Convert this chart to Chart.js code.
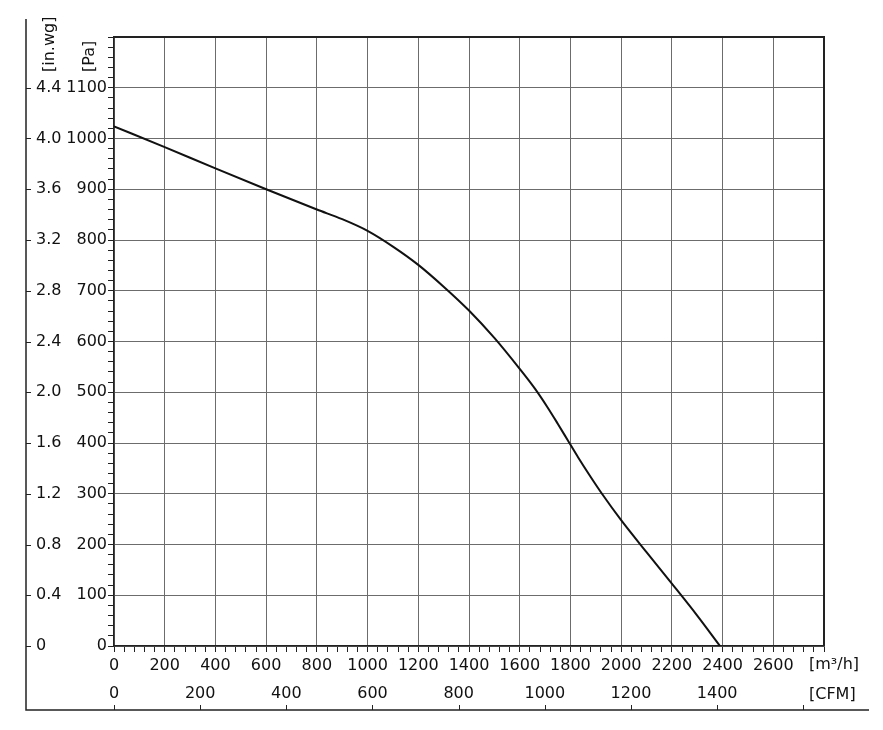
<!DOCTYPE html>
<html>
<head>
  <meta charset="UTF-8" />
  <title>Fan curve</title>
  <script src="https://cdn.jsdelivr.net/npm/chart.js"></script>
  <style>
    body { margin: 0; background: #fff; }
    canvas { display: block; }
  </style>
</head>
<body>
  <canvas id="fanChart" width="883" height="730"></canvas>

  <script>
    // curve: air flow [m3/h] vs static pressure [Pa]
    const flowM3h    = [0, 200, 400, 600, 800, 900, 1000, 1100, 1200, 1300, 1400, 1500, 1600, 1660, 1710, 1750, 1790, 1830, 1880, 1923, 2000, 2100, 2200, 2300, 2390];
    const pressurePa = [1024, 983, 941, 900, 860, 841, 818, 787, 751, 708, 661, 607, 546, 507, 470, 438, 405, 372, 333, 301, 248, 185, 123, 60, 0];

    // tick labels
    const paLabels   = [0, 100, 200, 300, 400, 500, 600, 700, 800, 900, 1000, 1100];
    const inwgLabels = ['0', '0.4', '0.8', '1.2', '1.6', '2.0', '2.4', '2.8', '3.2', '3.6', '4.0', '4.4'];
    const m3hLabels  = [0, 200, 400, 600, 800, 1000, 1200, 1400, 1600, 1800, 2000, 2200, 2400, 2600];
    const cfmLabels  = [0, 200, 400, 600, 800, 1000, 1200, 1400];
    const cfmTicks   = [0, 200, 400, 600, 800, 1000, 1200, 1400, 1600];

    const M3H_PER_CFM = 1.699;
    const X_MAX = 2800;
    const Y_MAX = 1200;

    Chart.defaults.font.family = "'DejaVu Sans', Verdana, sans-serif";
    Chart.defaults.font.size = 16;
    Chart.defaults.color = '#111';

    const gridColor = '#6c6c6c';
    const darkColor = '#222';

    // frame, outer axes, unit labels
    const extras = {
      id: 'extras',
      afterDraw(chart) {
        const { ctx, chartArea: a } = chart;
        const yin = chart.scales.yin;
        const xcfm = chart.scales.xcfm;
        ctx.save();
        ctx.strokeStyle = darkColor;
        ctx.lineWidth = 2;
        ctx.beginPath();
        ctx.moveTo(a.left, a.top);
        ctx.lineTo(a.right, a.top);
        ctx.lineTo(a.right, a.bottom);
        ctx.stroke();

        // outer in.wg line + CFM line
        ctx.lineWidth = 1.5;
        ctx.beginPath();
        ctx.moveTo(26, 19);
        ctx.lineTo(26, 710);
        ctx.lineTo(869, 710);
        ctx.stroke();

        ctx.lineWidth = 1;
        ctx.beginPath();
        paLabels.forEach(v => {
          const py = Math.round(yin.getPixelForValue(v)) + 0.5;
          ctx.moveTo(26, py);
          ctx.lineTo(31, py);
        });
        cfmTicks.forEach(v => {
          const px = Math.round(xcfm.getPixelForValue(v)) + 0.5;
          ctx.moveTo(px, 710);
          ctx.lineTo(px, 705);
        });
        ctx.stroke();

        ctx.fillStyle = '#111';
        ctx.font = "16px 'DejaVu Sans', Verdana, sans-serif";
        ctx.textAlign = 'left';
        ctx.textBaseline = 'middle';
        ctx.fillText('[m³/h]', 809, 665);
        ctx.fillText('[CFM]', 809, 695);

        ctx.translate(50, 72);
        ctx.rotate(-Math.PI / 2);
        ctx.fillText('[in.wg]', 0, 0);
        ctx.rotate(Math.PI / 2);
        ctx.translate(40, 0);
        ctx.rotate(-Math.PI / 2);
        ctx.fillText('[Pa]', 0, 0);
        ctx.restore();
      }
    };

    new Chart(document.getElementById('fanChart'), {
      type: 'line',
      data: {
        datasets: [{
          data: flowM3h.map((x, i) => ({ x, y: pressurePa[i] })),
          borderColor: '#111',
          borderWidth: 2,
          pointRadius: 0,
          fill: false,
          cubicInterpolationMode: 'monotone'
        }]
      },
      options: {
        responsive: false,
        animation: false,
        devicePixelRatio: 1,
        layout: { padding: { left: 36, top: 37, right: 59, bottom: 20 } },
        plugins: {
          legend: { display: false },
          tooltip: { enabled: false }
        },
        scales: {
          x: {
            type: 'linear',
            position: 'bottom',
            weight: 0,
            min: 0,
            max: X_MAX,
            afterFit: s => { s.height = 36; },
            ticks: {
              stepSize: 40,
              autoSkip: false,
              maxRotation: 0,
              padding: 4,
              callback: v => m3hLabels.includes(Math.round(v)) ? String(Math.round(v)) : ''
            },
            grid: {
              color: c => (Math.round(c.tick.value) % 200 === 0 ? gridColor : 'rgba(0,0,0,0)'),
              tickColor: darkColor,
              tickLength: 6,
              lineWidth: 1
            },
            border: { color: darkColor, width: 1.5 }
          },
          xcfm: {
            type: 'linear',
            position: 'bottom',
            weight: 1,
            min: 0,
            max: X_MAX / M3H_PER_CFM,
            afterFit: s => { s.height = 28; },
            ticks: {
              stepSize: 200,
              autoSkip: false,
              maxRotation: 0,
              padding: 2,
              callback: v => cfmLabels.includes(Math.round(v)) ? String(Math.round(v)) : ''
            },
            grid: { drawOnChartArea: false, drawTicks: false },
            border: { display: false }
          },
          y: {
            type: 'linear',
            position: 'left',
            weight: 0,
            min: 0,
            max: Y_MAX,
            afterFit: s => { s.width = 50; },
            ticks: {
              stepSize: 20,
              autoSkip: false,
              maxTicksLimit: 100,
              padding: 1,
              callback: v => paLabels.includes(Math.round(v)) ? String(Math.round(v)) : ''
            },
            grid: {
              color: c => (Math.round(c.tick.value) % 100 === 0 ? gridColor : 'rgba(0,0,0,0)'),
              tickColor: darkColor,
              tickLength: 6,
              lineWidth: 1
            },
            border: { color: darkColor, width: 1.5 }
          },
          yin: {
            type: 'linear',
            position: 'left',
            weight: 1,
            min: 0,
            max: Y_MAX,
            afterFit: s => { s.width = 28; },
            ticks: {
              stepSize: 100,
              autoSkip: false,
              crossAlign: 'far',
              callback: v => {
                const i = paLabels.indexOf(Math.round(v));
                return i >= 0 ? inwgLabels[i] : '';
              }
            },
            grid: { drawOnChartArea: false, drawTicks: false },
            border: { display: false }
          }
        }
      },
      plugins: [extras]
    });
  </script>
</body>
</html>
